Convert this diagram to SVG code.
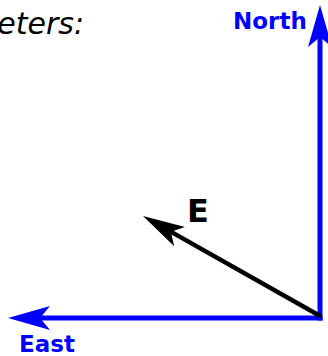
<svg xmlns="http://www.w3.org/2000/svg" width="328" height="356" viewBox="0 0 328 356">
<style>
.axis{stroke:#0000ff;stroke-width:5;fill:none}
.vec{stroke:#000000;stroke-width:4.5;fill:none}
.lbl{font-family:"DejaVu Sans",sans-serif;font-weight:bold}
.blue{fill:#0000ff}
.title{font-family:"DejaVu Sans",sans-serif;font-style:italic;font-size:30px;fill:#000}
</style>
<defs>
<marker id="headBlue" markerUnits="userSpaceOnUse" orient="auto" markerWidth="60" markerHeight="40" refX="0" refY="0" overflow="visible">
<path d="M10,0 L-32,-12 L-22,0 L-32,12 Z" fill="#0000ff"/>
</marker>
<marker id="headBlack" markerUnits="userSpaceOnUse" orient="auto" markerWidth="60" markerHeight="40" refX="0" refY="0" overflow="visible">
<path d="M10,0 L-32,-11 L-22,0 L-32,11 Z" fill="#000000"/>
</marker>
</defs>
<text class="title" x="84" y="34" text-anchor="end">eters:</text>
<g id="connectors">
<line id="north-axis" class="axis" x1="320" y1="320.5" x2="320" y2="15" marker-end="url(#headBlue)"/>
<line id="east-axis" class="axis" x1="322.5" y1="318" x2="18" y2="318" marker-end="url(#headBlue)"/>
<line id="e-vector" class="vec" x1="321" y1="316.5" x2="151.7" y2="220.9" marker-end="url(#headBlack)"/>
</g>
<g id="north">
<text class="lbl blue" x="233" y="29" font-size="23">North</text>
</g>
<g id="east">
<text class="lbl blue" x="19" y="352" font-size="23">East</text>
</g>
<g id="E">
<text class="lbl" x="187" y="222" font-size="32" fill="#000">E</text>
</g>
</svg>
